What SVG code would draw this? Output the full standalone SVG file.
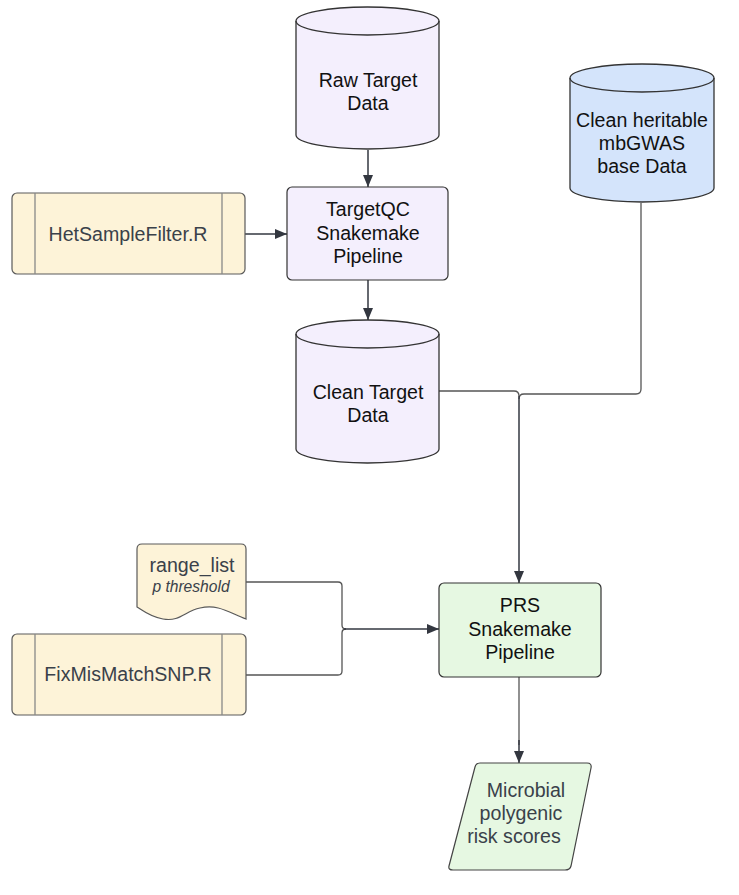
<svg xmlns="http://www.w3.org/2000/svg" width="739" height="895" viewBox="0 0 739 895">
<defs>
<marker id="arr" viewBox="0 0 12 10" refX="12" refY="5" markerWidth="12" markerHeight="10" markerUnits="userSpaceOnUse" orient="auto">
<path d="M0,0 L12,5 L0,10 Z" fill="#333740"/>
</marker>
<style>
.t{font-family:"Liberation Sans",Arial,sans-serif;font-size:19.6px;text-anchor:middle;fill:#111}
.g{fill:#3a414a}
.cyl{stroke:#333;stroke-width:1.3}
.pur{fill:#f4effd}
.blu{fill:#d4e4fb}
.yel{fill:#fdf3d8;stroke:#5a5a5a;stroke-width:1.2}
.grn{fill:#e6f8e2;stroke:#333;stroke-width:1.2}
.inner{stroke:#888;stroke-width:1.3;fill:none}
.c{fill:none;stroke:#555;stroke-width:1.3}
.ca{fill:none;stroke:#333740;stroke-width:1.5}
</style>
</defs>
<g id="connectors">
<path class="ca" d="M368,150 L368,187" marker-end="url(#arr)"/>
<path class="ca" d="M245,234 L287,234" marker-end="url(#arr)"/>
<path class="ca" d="M368,280 L368,320" marker-end="url(#arr)"/>
<path class="c" d="M439,391 L514,391 Q519,391 519,396"/>
<path class="c" d="M641,203 L641,389 Q641,394 636,394 L524,394 Q519,394 519,399"/>
<path class="ca" d="M519,396 L519,583" marker-end="url(#arr)"/>
<path class="c" d="M246,582 L338,582 Q342,582 342,586 L342,625 Q342,629 346,629"/>
<path class="c" d="M246,675 L338,675 Q342,675 342,671 L342,633 Q342,629 346,629"/>
<path class="ca" d="M344,629 L439,629" marker-end="url(#arr)"/>
<path class="c" d="M519,677 L519,745"/>
<path class="ca" d="M519,740 L519,763" marker-end="url(#arr)"/>
</g>
<g id="raw-target">
<path class="cyl pur" d="M296,21 L296,135 A71.5,14 0 0 0 439,135 L439,21 A71.5,14 0 0 0 296,21 Z"/>
<path class="cyl" fill="none" d="M296,21 A71.5,14 0 0 0 439,21"/>
<text class="t" x="368" y="87">Raw Target</text>
<text class="t" x="368" y="110">Data</text>
</g>
<g id="targetqc">
<rect class="grn" style="fill:#f4effd" x="287" y="187" width="161" height="93" rx="5"/>
<text class="t" x="368" y="216">TargetQC</text>
<text class="t" x="368" y="240">Snakemake</text>
<text class="t" x="368" y="263">Pipeline</text>
</g>
<g id="hetsample">
<rect class="yel" x="12" y="193" width="233" height="81" rx="5"/>
<line class="inner" x1="35" y1="193" x2="35" y2="274"/>
<line class="inner" x1="222" y1="193" x2="222" y2="274"/>
<text class="t g" x="128" y="241">HetSampleFilter.R</text>
</g>
<g id="clean-target">
<path class="cyl pur" d="M296,334 L296,449 A71.5,14 0 0 0 439,449 L439,334 A71.5,14 0 0 0 296,334 Z"/>
<path class="cyl" fill="none" d="M296,334 A71.5,14 0 0 0 439,334"/>
<text class="t" x="368" y="399">Clean Target</text>
<text class="t" x="368" y="422">Data</text>
</g>
<g id="clean-heritable">
<path class="cyl blu" d="M570,78 L570,188 A72,14 0 0 0 714,188 L714,78 A72,14 0 0 0 570,78 Z"/>
<path class="cyl" fill="none" d="M570,78 A72,14 0 0 0 714,78"/>
<text class="t" x="642" y="127">Clean heritable</text>
<text class="t" x="642" y="150">mbGWAS</text>
<text class="t" x="642" y="173">base Data</text>
</g>
<g id="range-list">
<path class="yel" d="M142,544 L241,544 Q246,544 246,549 L246,619 C228,612 218,604 200,608 C185,611 180,622 163,619 C150,617 142,610 137,607 L137,549 Q137,544 142,544 Z"/>
<text class="t g" x="192" y="572">range_list</text>
<text class="t g" x="191" y="592" style="font-size:15.6px;font-style:italic">p threshold</text>
</g>
<g id="fixmismatch">
<rect class="yel" x="12" y="634" width="234" height="81" rx="5"/>
<line class="inner" x1="35" y1="634" x2="35" y2="715"/>
<line class="inner" x1="222" y1="634" x2="222" y2="715"/>
<text class="t g" x="128" y="681">FixMisMatchSNP.R</text>
</g>
<g id="prs">
<rect class="grn" x="439" y="583" width="162" height="94" rx="5"/>
<text class="t" x="520" y="612">PRS</text>
<text class="t" x="520" y="636">Snakemake</text>
<text class="t" x="520" y="659">Pipeline</text>
</g>
<g id="microbial-prs">
<path class="grn" style="stroke:#444" d="M480,763 L587,763 Q592,763 591,768 L571,866 Q570,870 565,870 L453,870 Q448,870 449,866 L475,767 Q476,763 480,763 Z"/>
<text class="t g" x="526" y="797">Microbial</text>
<text class="t g" x="521" y="820">polygenic</text>
<text class="t g" x="514" y="843">risk scores</text>
</g>
</svg>
